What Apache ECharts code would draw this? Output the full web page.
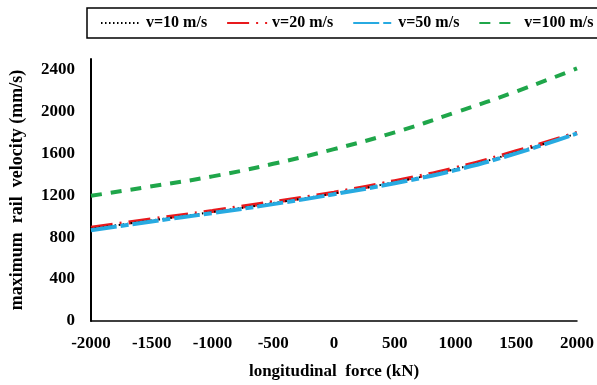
<!DOCTYPE html>
<html>
<head>
<meta charset="utf-8">
<script src="https://cdn.jsdelivr.net/npm/echarts@6/dist/echarts.min.js"></script>
<style>
html,body{margin:0;padding:0;background:#fff;}
#chart{width:597px;height:385px;}
</style>
</head>
<body>
<div id="chart"></div>
<script>
const forces = [-2000, -1500, -1000, -500, 0, 500, 1000, 1500, 2000];
const v10 = [880, 960, 1040, 1125, 1218, 1325, 1450, 1610, 1790];
const v20 = [890, 970, 1050, 1135, 1225, 1335, 1460, 1620, 1795];
const v50 = [865, 950, 1030, 1115, 1210, 1315, 1440, 1600, 1790];
const v100 = [1195, 1285, 1380, 1500, 1640, 1800, 1990, 2190, 2410];
const seriesNames = ['v=10 m/s', 'v=20 m/s', 'v=50 m/s', 'v=100 m/s'];
const yTicks = [0, 400, 800, 1200, 1600, 2000, 2400];

function pairs(vals) { return forces.map((f, i) => [f, vals[i]]); }

const font = 'Liberation Serif, Times New Roman, serif';
const chart = echarts.init(document.getElementById('chart'));
chart.setOption({
  animation: false,
  backgroundColor: '#fff',
  legend: {
    left: 87, top: 8, width: 700, orient: 'horizontal',
    padding: [7, 30, 7, 13],
    borderColor: '#000', borderWidth: 1.5,
    itemWidth: 40, itemHeight: 12, itemGap: 19,
    itemStyle: { opacity: 0, borderWidth: 0 },
    textStyle: { fontFamily: font, fontWeight: 'bold', fontSize: 16, color: '#000' },
    data: seriesNames
  },
  grid: { left: 91, right: 18, top: 59, bottom: 58 },
  xAxis: {
    type: 'value', min: -2000, max: 2000, interval: 500,
    name: 'longitudinal  force (kN)', nameLocation: 'middle', nameGap: 42,
    nameTextStyle: { fontFamily: font, fontWeight: 'bold', fontSize: 17, color: '#000' },
    axisLine: { show: true, onZero: false, lineStyle: { color: '#000', width: 1.5 } },
    axisTick: { show: false },
    splitLine: { show: false },
    axisLabel: { margin: 14, fontFamily: font, fontWeight: 'bold', fontSize: 17, color: '#000',
      formatter: v => String(v) }
  },
  yAxis: {
    type: 'value', min: 0, max: 2500, interval: 400,
    name: 'maximum  rail  velocity (mm/s)', nameLocation: 'middle', nameGap: 65,
    nameTextStyle: { fontFamily: font, fontWeight: 'bold', fontSize: 18, color: '#000' },
    axisLine: { show: true, onZero: false, lineStyle: { color: '#000', width: 2 } },
    axisTick: { show: false },
    splitLine: { show: false },
    axisLabel: {
      margin: 16, fontFamily: font, fontWeight: 'bold', fontSize: 17, color: '#000',
      formatter: v => (yTicks.indexOf(v) >= 0 ? String(v) : '')
    }
  },
  series: [
    { name: seriesNames[0], type: 'line', data: pairs(v10), smooth: true, symbol: 'none', z: 3,
      lineStyle: { color: '#000', width: 2, type: [1.5, 2.5] }, itemStyle: { color: '#000' } },
    { name: seriesNames[1], type: 'line', data: pairs(v20), smooth: true, symbol: 'none', z: 2,
      lineStyle: { color: '#E8191C', width: 4, type: [22, 7, 2, 7] }, itemStyle: { color: '#E8191C' } },
    { name: seriesNames[2], type: 'line', data: pairs(v50), smooth: true, symbol: 'none', z: 4,
      lineStyle: { color: '#27AAE1', width: 4, type: [26, 4, 8, 4] }, itemStyle: { color: '#27AAE1' } },
    { name: seriesNames[3], type: 'line', data: pairs(v100), smooth: true, symbol: 'none', z: 5,
      lineStyle: { color: '#1FA64A', width: 4, type: [11, 9] }, itemStyle: { color: '#1FA64A' } }
  ]
});
</script>
</body>
</html>
